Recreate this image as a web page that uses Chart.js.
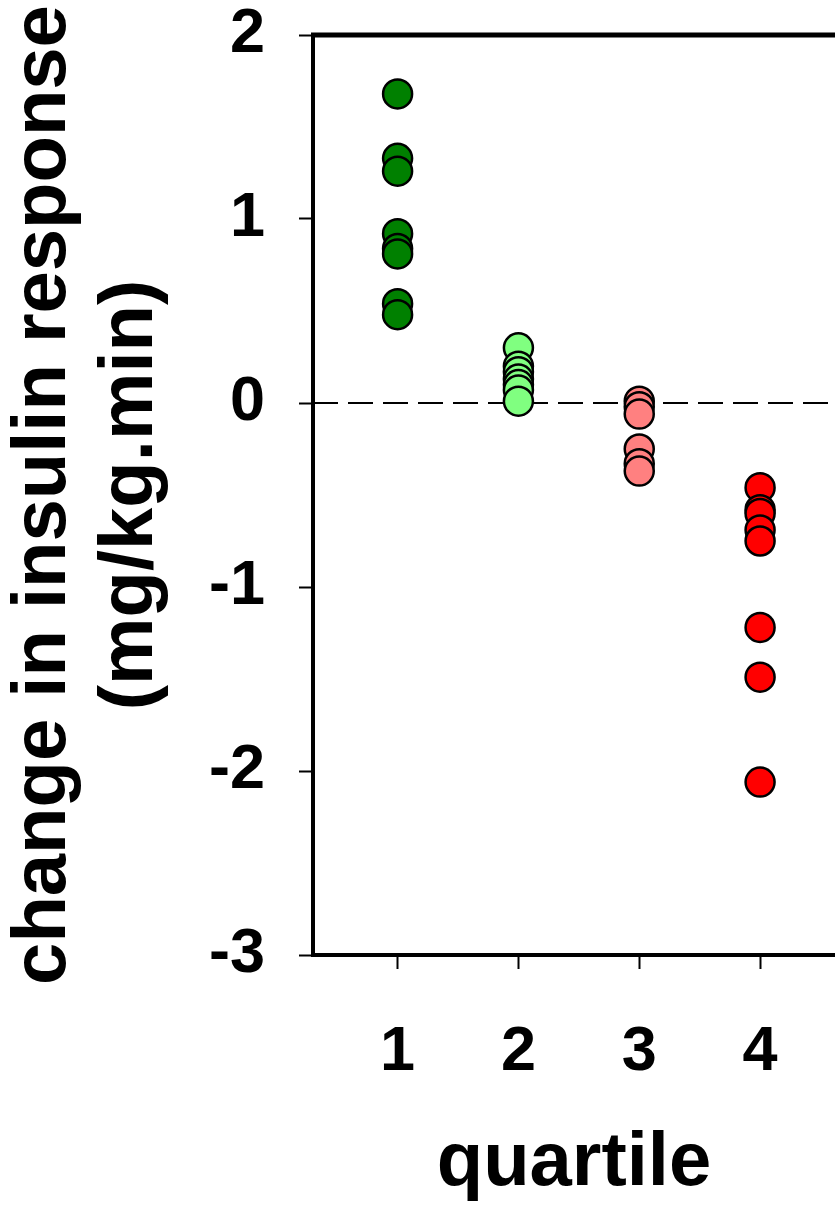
<!DOCTYPE html>
<html>
<head>
<meta charset="utf-8">
<script src="https://cdn.jsdelivr.net/npm/chart.js@4"></script>
<style>
  html, body { margin: 0; padding: 0; background: #fff; overflow: hidden; }
  canvas { display: block; }
</style>
</head>
<body>
<canvas id="chart" width="835" height="1210"></canvas>
<script>
// values
const quartiles = [1, 2, 3, 4];
const q1Values = [1.68, 1.33, 1.26, 0.92, 0.84, 0.81, 0.54, 0.48];
const q2Values = [0.30, 0.20, 0.17, 0.13, 0.10, 0.07, 0.01];
const q3Values = [0.01, -0.02, -0.06, -0.25, -0.33, -0.37];
const q4Values = [-0.46, -0.58, -0.60, -0.69, -0.75, -1.22, -1.49, -2.06];
const yTicks = [-3, -2, -1, 0, 1, 2];

const groupColors = ['#008000', '#80ff80', '#ff8080', '#ff0000'];
const groups = [q1Values, q2Values, q3Values, q4Values];

const xMin = 0.3, xMax = 4.62;

const datasets = groups.map(function (vals, i) {
    return {
        type: 'scatter',
        data: vals.map(v => ({ x: quartiles[i], y: v })),
        backgroundColor: groupColors[i],
        borderColor: '#000',
        borderWidth: 2.5,
        pointRadius: 14.5,
        pointHoverRadius: 14.5
    };
});

// dashed zero line, drawn under the points
datasets.unshift({
    type: 'line',
    data: [{ x: xMin, y: 0 }, { x: xMax, y: 0 }],
    borderColor: '#000',
    borderWidth: 2,
    borderDash: [25, 10],
    pointRadius: 0,
    fill: false,
    order: 10
});

// top frame line (no right frame, figure is cut off there)
const topLine = {
    id: 'topLine',
    afterDatasetsDraw(chart) {
        const a = chart.chartArea, ctx = chart.ctx;
        ctx.save();
        ctx.strokeStyle = '#000';
        ctx.lineWidth = 5;
        ctx.beginPath();
        ctx.moveTo(a.left - 2, a.top);
        ctx.lineTo(a.right, a.top);
        ctx.stroke();
        ctx.restore();
    }
};

const font = 'Liberation Sans, Arial, sans-serif';

new Chart(document.getElementById('chart').getContext('2d'), {
    data: { datasets: datasets },
    plugins: [topLine],
    options: {
        responsive: false,
        animation: false,
        layout: { padding: 0, autoPadding: false },
        plugins: { legend: { display: false }, tooltip: { enabled: false } },
        scales: {
            x: {
                type: 'linear',
                min: xMin,
                max: xMax,
                afterBuildTicks: function (s) { s.ticks = quartiles.map(v => ({ value: v })); },
                afterFit: function (s) { s.height = 255; s.paddingLeft = 0; s.paddingRight = 0; },
                border: { display: true, color: '#000', width: 4 },
                grid: { drawOnChartArea: false, drawTicks: true, tickLength: 14, tickWidth: 2, tickColor: '#000' },
                ticks: { color: '#000', padding: 46, font: { family: font, size: 63, weight: 'bold' } },
                title: {
                    display: true,
                    text: 'quartile',
                    color: '#000',
                    padding: { top: 0, bottom: 0 },
                    font: { family: font, size: 76, weight: 'bold' }
                }
            },
            y: {
                type: 'linear',
                min: -3,
                max: 2,
                afterBuildTicks: function (s) { s.ticks = yTicks.map(v => ({ value: v })); },
                afterFit: function (s) { s.width = 313; s.paddingTop = 35; s.paddingBottom = 0; },
                border: { display: true, color: '#000', width: 4 },
                grid: { drawOnChartArea: false, drawTicks: true, tickLength: 14, tickWidth: 2, tickColor: '#000' },
                ticks: { color: '#000', padding: 34, font: { family: font, size: 63, weight: 'bold' } },
                title: {
                    display: true,
                    text: ['change in insulin response', '(mg/kg.min)'],
                    color: '#000',
                    padding: { top: 0, bottom: 0 },
                    font: { family: font, size: 76, weight: 'bold', lineHeight: 1.15 }
                }
            }
        }
    }
});
</script>
</body>
</html>
